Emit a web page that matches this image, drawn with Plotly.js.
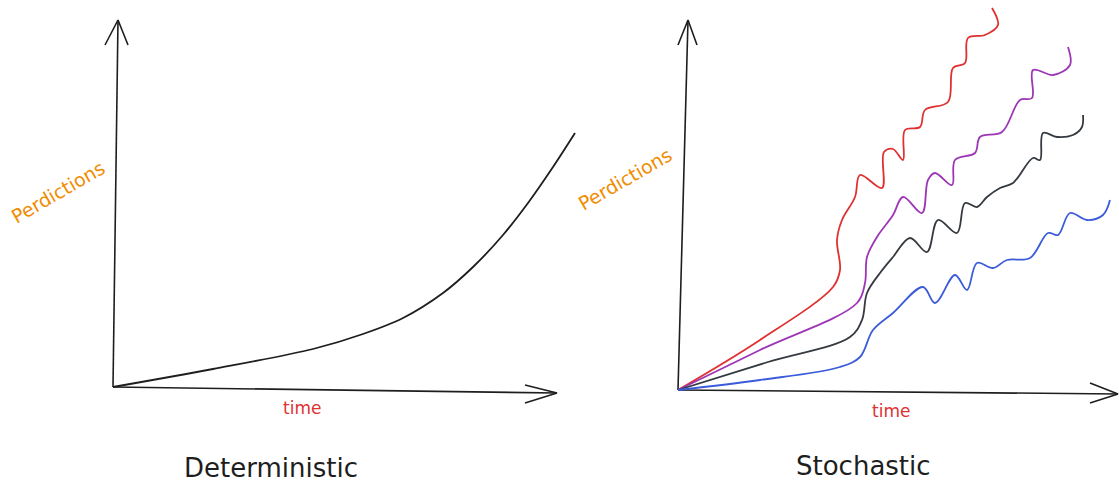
<!DOCTYPE html>
<html>
<head>
<meta charset="utf-8">
<script src="https://cdn.plot.ly/plotly-3.0.1.min.js"></script>
<style>html,body{margin:0;padding:0;background:#fff;}#chart{width:1119px;height:482px;}</style>
</head>
<body>
<div id="chart"></div>
<script>
// ---- Deterministic panel (time, prediction) ----
const detTime = [0, 100, 200, 250, 290, 330, 360, 390, 415, 440, 462];
const detPred = [0, 18, 38, 53, 69, 94, 120, 152, 184, 220, 254];

// ---- Stochastic panel ----
const redTime = [0, 82, 155, 162, 159, 164, 177, 182, 204, 206, 215, 225, 227, 242, 247, 270, 275, 287, 290, 307, 320, 314];
const redPred = [0, 50, 103, 120, 150, 170, 193, 215, 202, 238, 241, 230, 260, 263, 280, 288, 322, 327, 352, 355, 365, 382];

const purpleTime = [0, 82, 179, 187, 189, 199, 215, 225, 244, 250, 257, 274, 277, 297, 302, 324, 342, 354, 355, 375, 392, 390];
const purplePred = [0, 40, 87, 107, 133, 153, 175, 193, 177, 210, 217, 205, 230, 237, 253, 258, 290, 292, 320, 315, 325, 343];

const blackTime = [0, 90, 172, 184, 189, 202, 215, 232, 249, 260, 279, 287, 299, 309, 322, 335, 355, 362, 365, 379, 395, 404, 405];
const blackPred = [0, 28, 53, 70, 97, 117, 133, 152, 138, 170, 157, 187, 183, 193, 202, 207, 232, 230, 257, 253, 255, 263, 275];

const blueTime = [0, 82, 162, 182, 195, 215, 245, 257, 277, 289, 299, 315, 329, 352, 370, 380, 392, 409, 425, 432];
const bluePred = [0, 10, 23, 33, 60, 77, 103, 87, 115, 100, 127, 122, 130, 132, 157, 155, 177, 170, 175, 190];

// ---- hand-drawn axes (shaft + arrow head) ----
const detYAxisX = [0, 5, null, -8, 5, 15];
const detYAxisY = [0, 367, null, 342, 367, 342];
const detXAxisX = [0, 444, null, 412, 444, 412];
const detXAxisY = [0, -6, null, 2, -6, -16];
const stoYAxisX = [0, 10, null, 0, 10, 19];
const stoYAxisY = [0, 370, null, 345, 370, 345];
const stoXAxisX = [0, 440, null, 412, 440, 412];
const stoXAxisY = [0, -4, null, 7, -4, -13];

// ---- texts ----
const panelTitles = ["Deterministic", "Stochastic"];
const yLabel = "Perdictions";
const xLabel = "time";

const ink = "#1e1e1e";
const font = "DejaVu Sans, sans-serif";

function line(x, y, color, xa, ya, w, smooth) {
  return {
    x: x, y: y, xaxis: xa, yaxis: ya, mode: "lines", type: "scatter",
    line: {color: color, width: w, shape: smooth ? "spline" : "linear", smoothing: smooth || 0},
    hoverinfo: "skip", showlegend: false, cliponaxis: false
  };
}

const traces = [
  line(detYAxisX, detYAxisY, ink, "x", "y", 1.6),
  line(detXAxisX, detXAxisY, ink, "x", "y", 1.6),
  line(detTime, detPred, ink, "x", "y", 1.8, 0.9),
  line(stoYAxisX, stoYAxisY, ink, "x2", "y2", 1.6),
  line(stoXAxisX, stoXAxisY, ink, "x2", "y2", 1.6),
  line(redTime, redPred, "#e03131", "x2", "y2", 1.8, 1),
  line(purpleTime, purplePred, "#9c36b5", "x2", "y2", 1.8, 1),
  line(blackTime, blackPred, "#343a40", "x2", "y2", 1.8, 1),
  line(blueTime, bluePred, "#3b5bdb", "x2", "y2", 1.8, 1)
];

const hidden = {showgrid: false, zeroline: false, showline: false, showticklabels: false, ticks: "", fixedrange: true};

function ann(text, px, py, size, color, angle) {
  return {text: text, xref: "paper", yref: "paper", x: px / 1119, y: 1 - py / 482,
          xanchor: "center", yanchor: "middle", showarrow: false, textangle: angle || 0,
          font: {family: font, size: size, color: color}};
}

const layout = {
  width: 1119, height: 482,
  margin: {l: 0, r: 0, t: 0, b: 0, pad: 0},
  paper_bgcolor: "#ffffff", plot_bgcolor: "#ffffff",
  showlegend: false,
  xaxis: Object.assign({domain: [0, 620/1119], range: [-113, 507]}, hidden),
  yaxis: Object.assign({domain: [0, 1], range: [-95, 387]}, hidden),
  xaxis2: Object.assign({domain: [620/1119, 1], range: [-58, 441], anchor: "y2"}, hidden),
  yaxis2: Object.assign({domain: [0, 1], range: [-92, 390], anchor: "x2"}, hidden),
  annotations: [
    ann(yLabel, 58, 192, 19, "#f08c00", -30),
    ann(yLabel, 625, 179, 19, "#f08c00", -30),
    ann(xLabel, 302, 408, 17, "#e03131"),
    ann(xLabel, 891, 411, 17, "#e03131"),
    ann(panelTitles[0], 271, 468, 26, ink),
    ann(panelTitles[1], 863, 466, 26, ink)
  ]
};

Plotly.newPlot("chart", traces, layout, {displayModeBar: false, staticPlot: true});
</script>
</body>
</html>
